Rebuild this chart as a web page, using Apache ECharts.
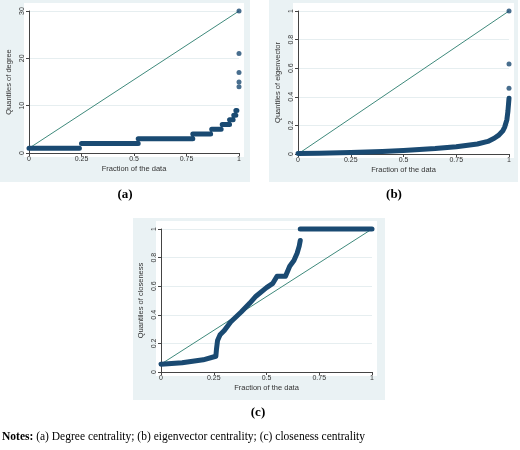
<!DOCTYPE html>
<html>
<head>
<meta charset="utf-8">
<script src="https://cdn.jsdelivr.net/npm/echarts@6/dist/echarts.min.js"></script>
<style>html,body{margin:0;padding:0;background:#fff}#chart{width:520px;height:450px}</style>
</head>
<body>
<div id="chart"></div>
<script>
// quantiles of degree: step segments [xStart, xEnd, value]
const degreeSteps = [[0, 0.24, 1], [0.25, 0.52, 2], [0.52, 0.78, 3], [0.78, 0.865, 4], [0.87, 0.915, 5], [0.92, 0.955, 6], [0.955, 0.972, 7], [0.975, 0.985, 8], [0.985, 0.99, 9], [0.99, 0.993, 10], [0.993, 0.996, 11], [0.996, 0.998, 12]]
const degreeTail = [[1, 14], [1, 15], [1, 17], [1, 21], [1, 30]]
const degreeTicks = [0, 10, 20, 30]
// quantiles of eigenvector
const eigenCurve = [[0, 0.003], [0.1, 0.005], [0.25, 0.01], [0.4, 0.018], [0.5, 0.025], [0.65, 0.038], [0.75, 0.05], [0.85, 0.07], [0.9, 0.088], [0.93, 0.11], [0.95, 0.13], [0.97, 0.16], [0.98, 0.19], [0.99, 0.24], [0.995, 0.3], [1, 0.39]]
const eigenTail = [[1, 0.46], [1, 0.63], [1, 1]]
// quantiles of closeness
const closeCurve = [[0, 0.055], [0.1, 0.065], [0.2, 0.085], [0.26, 0.11], [0.263, 0.16], [0.268, 0.22], [0.28, 0.26], [0.3, 0.29], [0.33, 0.35], [0.38, 0.42], [0.42, 0.48], [0.45, 0.53], [0.5, 0.59], [0.53, 0.62], [0.55, 0.67], [0.59, 0.67], [0.61, 0.74], [0.63, 0.78], [0.645, 0.83], [0.655, 0.88], [0.66, 0.92]]
const closeTop = [[0.66, 1], [1, 1]]
const closeDiag = [[0, 0.055], [1, 1]]
const xTicks = [0, 0.25, 0.5, 0.75, 1]

const navy = '#1a4a72'
const teal = '#3f8a7c'
const grids = [
  { left: 29, top: 11, width: 210, height: 142 },
  { left: 298, top: 11, width: 211, height: 143 },
  { left: 161, top: 229, width: 211, height: 143 }
]
const yNames = ['Quantiles of degree', 'Quantiles of eigenvector', 'Quantiles of closeness']
const yMax = [30, 1, 1]
const yStep = [10, 0.2, 0.2]

function stepData (steps) {
  const out = []
  steps.forEach(s => { out.push([s[0], s[2]], [s[1], s[2]], null) })
  return out
}

const graphic = []
const bgs = [[0, 0, 250, 182], [269, 0, 249, 182], [133, 218, 252, 182]]
bgs.forEach(b => graphic.push({ type: 'rect', shape: { x: b[0], y: b[1], width: b[2], height: b[3] }, style: { fill: '#eaf2f4' }, z: -10 }))
grids.forEach(g => graphic.push({ type: 'rect', shape: { x: g.left - 5, y: g.top - 8, width: g.width + 10, height: g.height + 12 }, style: { fill: '#fff' }, z: -9 }))
const labs = [['(a)', 125, 195], ['(b)', 394, 195], ['(c)', 258, 413]]
labs.forEach(l => graphic.push({ type: 'text', x: l[1], y: l[2], style: { text: l[0], font: 'bold 13px "Liberation Serif"', fill: '#000', align: 'center', verticalAlign: 'middle' } }))
graphic.push({ type: 'text', x: 2, y: 437, style: { text: '{b|Notes:} (a) Degree centrality; (b) eigenvector centrality; (c) closeness centrality', font: '11.5px "Liberation Serif"', fill: '#000', verticalAlign: 'middle', rich: { b: { fontWeight: 'bold', fontFamily: 'Liberation Serif', fontSize: 11.5 } } } })

const xAxis = grids.map((g, i) => ({
  gridIndex: i, type: 'value', min: 0, max: 1, interval: 0.25,
  name: 'Fraction of the data', nameLocation: 'middle', nameGap: 12,
  nameTextStyle: { fontSize: 7.5, color: '#333', fontFamily: 'Liberation Sans' },
  axisLine: { show: true, onZero: false, lineStyle: { color: '#444' } },
  axisTick: { show: true, length: 3, lineStyle: { color: '#444' } },
  axisLabel: { fontSize: 7, color: '#333', margin: 3, formatter: v => xTicks.includes(v) ? String(v) : '' },
  splitLine: { show: false }
}))
const yAxis = grids.map((g, i) => ({
  gridIndex: i, type: 'value', min: 0, max: yMax[i], interval: yStep[i],
  name: yNames[i], nameLocation: 'middle', nameGap: 16,
  nameTextStyle: { fontSize: 7.5, color: '#333', fontFamily: 'Liberation Sans' },
  axisLine: { show: true, lineStyle: { color: '#444' } },
  axisTick: { show: true, length: 3, lineStyle: { color: '#444' } },
  axisLabel: { fontSize: 7, color: '#333', margin: 3, rotate: 90, formatter: v => i === 0 ? (degreeTicks.includes(v) ? String(v) : '') : String(+v.toFixed(1)) },
  splitLine: { show: true, lineStyle: { color: '#e6eef0', width: 1 } }
}))

function band (i, data) {
  return { type: 'line', xAxisIndex: i, yAxisIndex: i, data: data, showSymbol: false, clip: false, lineStyle: { color: navy, width: 5, cap: 'round', join: 'round' }, z: 3 }
}
function dots (i, data) {
  return { type: 'scatter', xAxisIndex: i, yAxisIndex: i, data: data, symbolSize: 5, clip: false, itemStyle: { color: navy }, z: 4 }
}
function diag (i, data) {
  return { type: 'line', xAxisIndex: i, yAxisIndex: i, data: data, showSymbol: false, clip: false, lineStyle: { color: teal, width: 1 }, z: 2 }
}

const series = [
  band(0, stepData(degreeSteps)), dots(0, degreeTail), diag(0, [[0, 1], [1, 30]]),
  band(1, eigenCurve), dots(1, eigenTail), diag(1, [[0, 0], [1, 1]]),
  band(2, closeCurve), band(2, closeTop), diag(2, closeDiag)
]

const chart = echarts.init(document.getElementById('chart'))
chart.setOption({ animation: false, grid: grids, xAxis: xAxis, yAxis: yAxis, series: series, graphic: graphic })
</script>
</body>
</html>
